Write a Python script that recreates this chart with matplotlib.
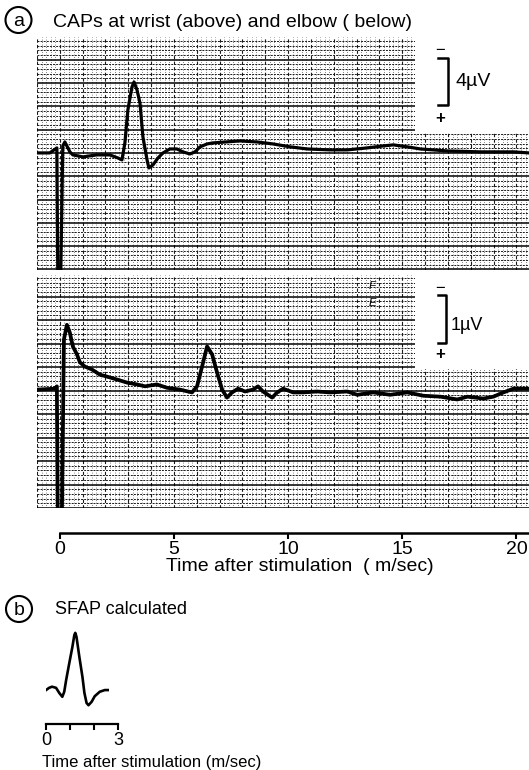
import matplotlib
matplotlib.use('Agg')
import matplotlib.pyplot as plt
from matplotlib.patches import Circle, Rectangle
from matplotlib.lines import Line2D
from matplotlib.ticker import MultipleLocator
from matplotlib.transforms import Affine2D

plt.rcParams['font.family'] = ['Liberation Sans', 'DejaVu Sans']

# CAP recorded at the wrist (ms, uV; negative = upward deflection)
wrist_t = [-1.0, -0.44, -0.13, -0.09, 0.04, 0.13, 0.22, 0.44, 0.57, 1.01, 1.62, 2.19, 2.54, 2.72,
           2.85, 2.98, 3.16, 3.25, 3.38, 3.51, 3.64, 3.82, 3.90, 4.08, 4.30, 4.52, 4.82, 5.13,
           5.39, 5.70, 5.92, 6.14, 6.45, 6.71, 7.89, 8.64, 9.34, 10.09, 10.83, 11.84, 12.59,
           13.46, 14.17, 14.61, 15.22, 15.79, 16.97, 18.42, 19.87, 20.55]
wrist_uv = [0.0, 0.0, -0.43, 10.5, 10.5, -0.6, -0.94, -0.09, 0.17, 0.34, 0.17, 0.17, 0.43, 0.6,
            -0.86, -3.69, -5.67, -6.09, -5.41, -4.29, -1.37, 0.6, 1.29, 1.03, 0.43, 0.0, -0.34,
            -0.34, -0.09, 0.09, -0.09, -0.52, -0.77, -0.86, -1.03, -0.94, -0.77, -0.52, -0.34,
            -0.26, -0.26, -0.43, -0.6, -0.69, -0.52, -0.34, -0.17, -0.09, -0.09, 0.0]

# CAP recorded at the elbow
elbow_t = [-1.0, -0.22, -0.13, -0.09, 0.09, 0.18, 0.31, 0.44, 0.57, 0.75, 0.88, 1.10, 1.40, 1.75,
           2.19, 2.54, 2.94, 3.38, 3.73, 4.25, 4.69, 5.26, 5.79, 6.01, 6.23, 6.45, 6.67, 6.89,
           7.11, 7.32, 7.54, 7.81, 8.11, 8.46, 8.68, 8.90, 9.30, 9.52, 9.78, 10.22, 10.66, 11.27,
           11.84, 12.59, 13.03, 13.73, 14.47, 15.22, 15.92, 16.67, 17.41, 17.85, 18.55, 18.99,
           19.43, 19.87, 20.55]
elbow_uv = [-0.02, -0.04, -0.09, 2.7, 2.7, -1.09, -1.40, -1.23, -0.94, -0.77, -0.60, -0.51, -0.45,
            -0.34, -0.28, -0.23, -0.17, -0.13, -0.09, -0.13, -0.06, -0.02, 0.04, -0.09, -0.51,
            -0.94, -0.77, -0.38, -0.02, 0.15, 0.04, -0.04, 0.02, -0.02, -0.09, 0.02, 0.15, 0.04,
            -0.04, 0.04, 0.04, 0.02, 0.04, 0.02, 0.09, 0.04, 0.09, 0.04, 0.11, 0.13, 0.19, 0.13,
            0.17, 0.13, 0.04, -0.04, -0.04]

# calculated single fibre action potential (normalised)
sfap_t = [0.0, 0.13, 0.25, 0.42, 0.55, 0.68, 0.76, 0.84, 0.97, 1.10, 1.18, 1.22, 1.27, 1.39,
          1.52, 1.60, 1.69, 1.77, 1.90, 2.03, 2.24, 2.45, 2.57]
sfap_amp = [-0.02, 0.02, 0.04, 0.02, -0.07, -0.14, -0.05, 0.16, 0.46, 0.75, 0.96, 1.0, 0.93,
            0.57, 0.21, -0.07, -0.25, -0.29, -0.23, -0.13, -0.05, -0.02, -0.02]

time_ticks = [0, 5, 10, 15, 20]
sfap_ticks = [0, 1, 2, 3]
sfap_tick_labels = ['0', '', '', '3']

W, H = 529, 770
fig = plt.figure(figsize=(W / 100, H / 100), dpi=100)
# pixel coordinates, origin top-left
px = Affine2D().scale(1 / W, -1 / H).translate(0, 1) + fig.transFigure


def rect(x0, y0, x1, y1):
    return [x0 / W, 1 - y1 / H, (x1 - x0) / W, (y1 - y0) / H]


T_LIM = (-1.0, 20.55)


def paper(ax, ylim, major, blank_to):
    # chart-recorder graph paper
    ax.set_xlim(*T_LIM)
    ax.set_ylim(*ylim)
    ax.xaxis.set_major_locator(MultipleLocator(1))
    ax.xaxis.set_minor_locator(MultipleLocator(0.2))
    ax.yaxis.set_major_locator(MultipleLocator(major))
    ax.yaxis.set_minor_locator(MultipleLocator(major / 5))
    ax.grid(axis='y', which='major', color='black', lw=1.1)
    ax.grid(axis='y', which='minor', color='0.1', lw=0.7, ls=(0, (2, 1.2)))
    ax.grid(axis='x', which='major', color='0.1', lw=0.8, ls=(0, (3, 2)))
    ax.grid(axis='x', which='minor', color='0.35', lw=0.6, ls=(0, (1, 2)))
    ax.set_axisbelow(True)
    ax.tick_params(which='both', length=0, labelbottom=False, labelleft=False)
    for s in ax.spines.values():
        s.set_visible(False)
    top = ylim[1] - 1
    ax.add_patch(Rectangle((15.57, top), 10, blank_to - top, facecolor='white',
                           edgecolor='none', zorder=1))


ax1 = fig.add_axes(rect(37, 37, 529, 270))
paper(ax1, (10.05, -9.95), 2, -1.72)
ax1.plot(wrist_t, wrist_uv, color='black', lw=2.3, solid_joinstyle='round', zorder=3)

ax2 = fig.add_axes(rect(37, 275, 529, 508))
paper(ax2, (2.5, -2.46), 0.5, -0.45)
ax2.plot(elbow_t, elbow_uv, color='black', lw=2.7, solid_joinstyle='round', zorder=3)

# time axis
axt = fig.add_axes(rect(37, 520, 529, 533))
axt.set_xlim(*T_LIM)
axt.patch.set_visible(False)
for k in ['left', 'right', 'top']:
    axt.spines[k].set_visible(False)
axt.spines['bottom'].set_linewidth(1.8)
axt.spines['bottom'].set_bounds(0, T_LIM[1])
axt.set_yticks([])
axt.set_xticks(time_ticks)
axt.tick_params(axis='x', direction='out', length=4, width=1.5, labelsize=14, pad=1.5)
fig.text(300, 571, 'Time after stimulation  ( m/sec)', transform=px, ha='center',
         va='baseline', fontsize=14)

# calibration bars
fig.add_artist(Line2D([438, 448, 448, 438], [58, 58, 105, 105], transform=px, color='black', lw=1.8))
fig.text(440, 50, '\u2212', transform=px, ha='center', va='center', fontsize=12)
fig.text(440, 118, '+', transform=px, ha='center', va='center', fontsize=12, fontweight='bold')
fig.text(455, 82, '4\u00b5V', transform=px, ha='left', va='center', fontsize=14)

fig.add_artist(Line2D([438, 446, 446, 438], [295, 295, 343, 343], transform=px, color='black', lw=1.8))
fig.text(440, 288, '\u2212', transform=px, ha='center', va='center', fontsize=12)
fig.text(440, 354, '+', transform=px, ha='center', va='center', fontsize=12, fontweight='bold')
fig.text(451, 325, '1\u00b5V', transform=px, ha='left', va='center', fontsize=13)
fig.text(372, 286, 'F', transform=px, ha='center', va='center', fontsize=8, style='italic')
fig.text(372, 303, 'E', transform=px, ha='center', va='center', fontsize=8, style='italic')

# panel headings
fig.add_artist(Circle((18.5, 20), 13, transform=px, fill=False, lw=1.5, edgecolor='black'))
fig.text(18.5, 26, 'a', transform=px, ha='center', va='baseline', fontsize=14)
fig.text(53, 27, 'CAPs at wrist (above) and elbow ( below)', transform=px, ha='left',
         va='baseline', fontsize=14)

fig.add_artist(Circle((19, 609), 13, transform=px, fill=False, lw=1.5, edgecolor='black'))
fig.text(19, 615, 'b', transform=px, ha='center', va='baseline', fontsize=14)
fig.text(55, 614, 'SFAP calculated', transform=px, ha='left', va='baseline', fontsize=13)

# (b) SFAP
axs = fig.add_axes(rect(46, 625, 118, 724))
axs.set_xlim(0, 3)
axs.set_ylim(-0.625, 1.14)
axs.plot(sfap_t, sfap_amp, color='black', lw=1.9, solid_joinstyle='round')
axs.patch.set_visible(False)
for k in ['left', 'right', 'top']:
    axs.spines[k].set_visible(False)
axs.spines['bottom'].set_linewidth(1.6)
axs.set_yticks([])
axs.set_xticks(sfap_ticks)
axs.set_xticklabels(sfap_tick_labels)
axs.tick_params(axis='x', direction='out', length=4, width=1.5, labelsize=13, pad=2)
fig.text(42, 767, 'Time after stimulation (m/sec)', transform=px, ha='left', va='baseline',
         fontsize=12)

fig.savefig('out.png', dpi=100)
